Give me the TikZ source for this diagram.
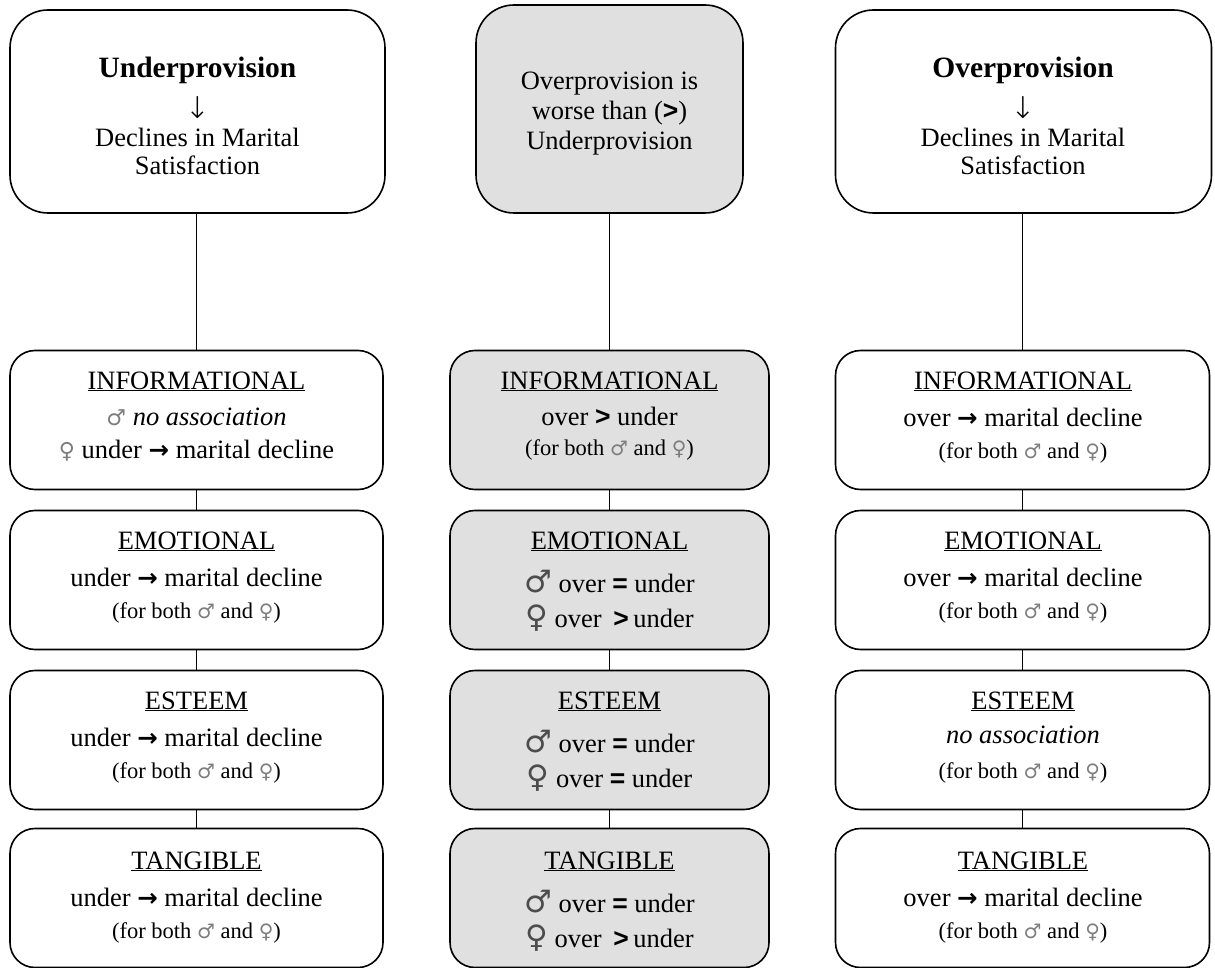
\documentclass[tikz,border=0pt]{standalone}
\usepackage{fontspec}
\setmainfont{Liberation Serif}
\newfontfamily\symf{DejaVu Sans}
\newfontfamily\symlight{DejaVu Sans ExtraLight}
\newfontfamily\sansf{Liberation Sans}
\definecolor{boxgray}{RGB}{224,224,224}
\definecolor{symgray}{RGB}{125,125,125}
\newcommand{\ms}{{\fontsize{20}{20}\symf\color{symgray}♂}}
\newcommand{\fs}{{\fontsize{20}{20}\symf\color{symgray}♀}}
\newcommand{\Ms}{{\fontsize{22}{22}\symf\color{symgray}♂}}
\newcommand{\Fs}{{\fontsize{22}{22}\symf\color{symgray}♀}}
\newcommand{\bms}{{\fontsize{31}{31}\symf\color{black!70}♂}}
\newcommand{\bfs}{{\fontsize{31}{31}\symf\color{black!70}♀}}
\newcommand{\rarr}{{\fontsize{24.5}{24.5}\symf\bfseries →}}
\newcommand{\darr}{{\fontsize{30}{30}\symlight ↓}}
\newcommand{\gtb}{{\sansf\bfseries >}}
\newcommand{\eqb}{{\sansf\bfseries =}}
\newcommand{\hd}[1]{\underline{#1}}
\begin{document}
\begin{tikzpicture}[x=1pt,y=-1pt,
  box/.style={draw=black, line width=1.6pt, rounded corners=25pt, inner sep=0pt, rectangle},
  topbox/.style={box, rounded corners=38pt},
  shaded/.style={fill=boxgray},
  tx/.style={anchor=base, inner sep=0pt, font=\fontsize{26.5}{30}\selectfont},
  ttl/.style={anchor=base, inner sep=0pt, font=\fontsize{29.5}{33}\selectfont\bfseries},
  sm/.style={anchor=base, inner sep=0pt, font=\fontsize{22.5}{26}\selectfont},
  link/.style={draw=black, line width=1.2pt}]
\useasboundingbox (0,0) rectangle (1215,968);

% top boxes
\node[topbox, minimum width=375, minimum height=203] (TL) at (197.5,111.5) {};
\node[topbox, shaded, minimum width=267, minimum height=208] (TM) at (609.5,109) {};
\node[topbox, minimum width=376, minimum height=203] (TR) at (1023.5,111.5) {};

% lower boxes
\foreach \r/\yc in {1/420,2/580,3/740,4/898}{
  \node[box, minimum width=373, minimum height=139] (L\r) at (196.5,\yc) {};
  \node[box, shaded, minimum width=319, minimum height=139] (M\r) at (609.5,\yc) {};
  \node[box, minimum width=374, minimum height=139] (R\r) at (1022.5,\yc) {};
}

% connectors
\draw[link] (TL.south -| L1.north) -- (L1.north);
\draw[link] (TM.south) -- (M1.north);
\draw[link] (TR.south -| R1.north) -- (R1.north);
\foreach \a/\b in {1/2,2/3,3/4}{
  \draw[link] (L\a.south) -- (L\b.north);
  \draw[link] (M\a.south) -- (M\b.north);
  \draw[link] (R\a.south) -- (R\b.north);
}

% top texts
\node[ttl] (TLa) at (197.5,78) {Underprovision};
\node[tx, anchor=center] (TLb) at (197.5,108) {\darr};
\node[tx] (TLc) at (197.5,147) {Declines in Marital};
\node[tx] (TLd) at (197.5,175) {Satisfaction};

\node[tx] (TMa) at (609.5,90) {Overprovision is};
\node[tx] (TMb) at (609.5,120) {worse than (\gtb)};
\node[tx] (TMc) at (609.5,150) {Underprovision};

\node[ttl] (TRa) at (1023,78) {Overprovision};
\node[tx, anchor=center] (TRb) at (1023,108) {\darr};
\node[tx] (TRc) at (1023,147) {Declines in Marital};
\node[tx] (TRd) at (1023,175) {Satisfaction};

% row 1
\node[tx] (L1a) at (196.5,389) {\hd{INFORMATIONAL}};
\node[tx] (L1b) at (196.5,425) {\Ms\ \textit{no association}};
\node[tx] (L1c) at (196.5,458) {\Fs\ under \rarr\ marital decline};

\node[tx] (M1a) at (609.5,389) {\hd{INFORMATIONAL}};
\node[tx] (M1b) at (609.5,425) {over \gtb\ under};
\node[sm] (M1c) at (609.5,455) {(for both \ms\ and \fs)};

\node[tx] (R1a) at (1023,389) {\hd{INFORMATIONAL}};
\node[tx] (R1b) at (1023,426) {over \rarr\ marital decline};
\node[sm] (R1c) at (1023,458) {(for both \ms\ and \fs)};

% row 2
\node[tx] (L2a) at (196.5,549) {\hd{EMOTIONAL}};
\node[tx] (L2b) at (196.5,586) {under \rarr\ marital decline};
\node[sm] (L2c) at (196.5,618) {(for both \ms\ and \fs)};

\node[tx] (M2a) at (609.5,549) {\hd{EMOTIONAL}};
\node[tx] (M2b) at (609.5,592) {\bms\ over \eqb\ under};
\node[tx] (M2c) at (609.5,627) {\bfs\ over\hspace{5pt} \gtb\,under};

\node[tx] (R2a) at (1023,549) {\hd{EMOTIONAL}};
\node[tx] (R2b) at (1023,586) {over \rarr\ marital decline};
\node[sm] (R2c) at (1023,618) {(for both \ms\ and \fs)};

% row 3
\node[tx] (L3a) at (196.5,709) {\hd{ESTEEM}};
\node[tx] (L3b) at (196.5,746) {under \rarr\ marital decline};
\node[sm] (L3c) at (196.5,778) {(for both \ms\ and \fs)};

\node[tx] (M3a) at (609.5,709) {\hd{ESTEEM}};
\node[tx] (M3b) at (609.5,752) {\bms\ over \eqb\ under};
\node[tx] (M3c) at (609.5,787) {\bfs\ over \eqb\ under};

\node[tx] (R3a) at (1023,709) {\hd{ESTEEM}};
\node[tx] (R3b) at (1023,743) {\textit{no association}};
\node[sm] (R3c) at (1023,778) {(for both \ms\ and \fs)};

% row 4
\node[tx] (L4a) at (196.5,869) {\hd{TANGIBLE}};
\node[tx] (L4b) at (196.5,906) {under \rarr\ marital decline};
\node[sm] (L4c) at (196.5,938) {(for both \ms\ and \fs)};

\node[tx] (M4a) at (609.5,869) {\hd{TANGIBLE}};
\node[tx] (M4b) at (609.5,912) {\bms\ over \eqb\ under};
\node[tx] (M4c) at (609.5,947) {\bfs\ over\hspace{5pt} \gtb\,under};

\node[tx] (R4a) at (1023,869) {\hd{TANGIBLE}};
\node[tx] (R4b) at (1023,906) {over \rarr\ marital decline};
\node[sm] (R4c) at (1023,938) {(for both \ms\ and \fs)};
\end{tikzpicture}
\end{document}
